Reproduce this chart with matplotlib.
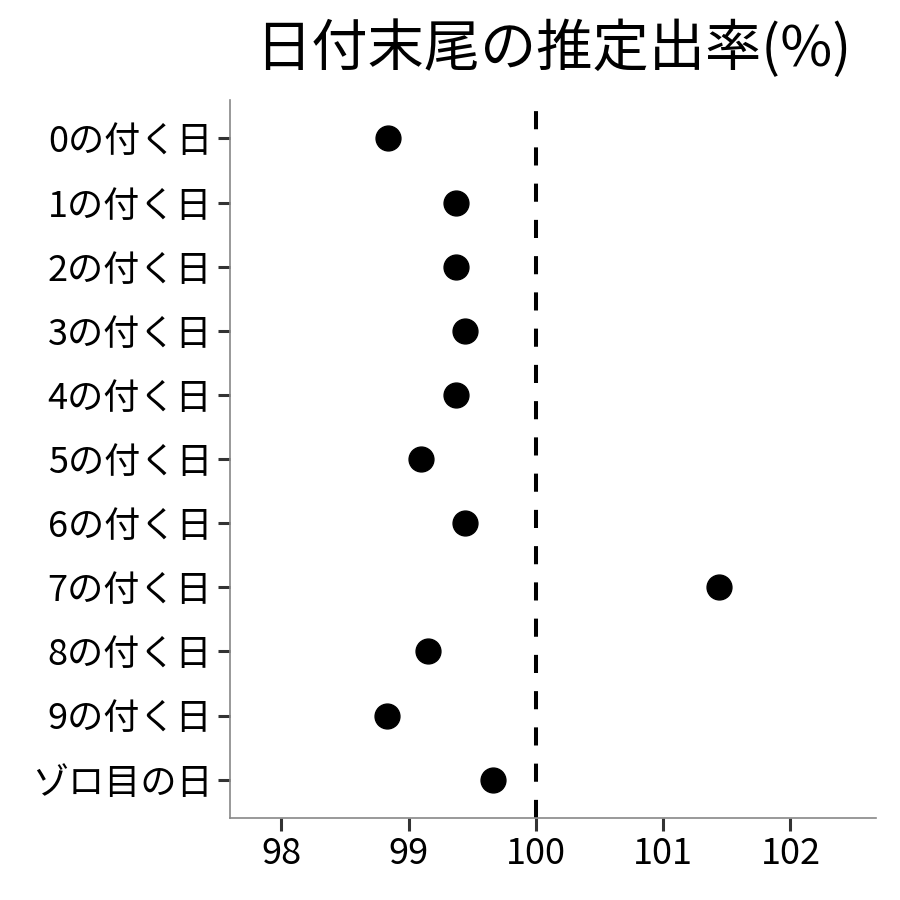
import matplotlib
matplotlib.use("Agg")
import matplotlib.pyplot as plt

plt.rcParams['font.family'] = ['Noto Sans CJK JP', 'DejaVu Sans']

# data
labels = ['0の付く日', '1の付く日', '2の付く日', '3の付く日', '4の付く日',
          '5の付く日', '6の付く日', '7の付く日', '8の付く日', '9の付く日', 'ゾロ目の日']
rates = [98.84, 99.37, 99.37, 99.44, 99.37, 99.10, 99.44, 101.44, 99.15, 98.83, 99.66]
xticks = [98, 99, 100, 101, 102]

fig, ax = plt.subplots(figsize=(9, 9), dpi=100)
fig.subplots_adjust(left=0.256, right=0.973, top=0.889, bottom=0.091)

ypos = list(range(len(labels)))
ax.scatter(rates, ypos, s=320, color='black', zorder=3)
ax.axvline(100, color='black', linestyle=(0, (4.5, 4.5)), linewidth=2.9, zorder=2)

ax.set_yticks(ypos)
ax.set_yticklabels(labels)
ax.set_ylim(len(labels) - 0.4, -0.6)
ax.set_xlim(97.6, 102.67)
ax.set_xticks(xticks)
ax.set_xticklabels([str(t) for t in xticks])

for s in ['top', 'right']:
    ax.spines[s].set_visible(False)
for s in ['left', 'bottom']:
    ax.spines[s].set_color('#888888')
    ax.spines[s].set_linewidth(1.2)

ax.tick_params(axis='both', length=9, width=2.2, color='#333333',
               labelsize=26, labelcolor='black', pad=4)

ax.set_title('日付末尾の推定出率(%)', fontsize=40.5, pad=24)

fig.savefig('out.png', dpi=100, facecolor='white')
